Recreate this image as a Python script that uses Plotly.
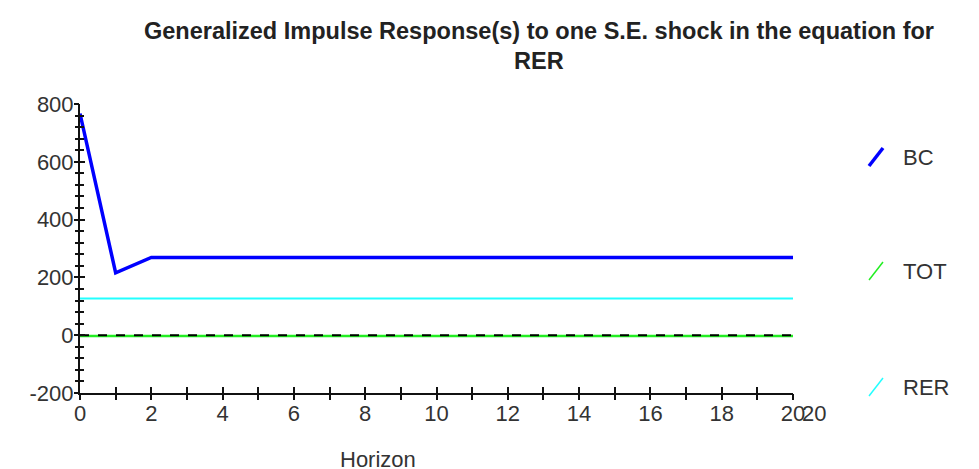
import plotly.graph_objects as go

horizon = list(range(0, 21))
bc = [767, 216, 269] + [269] * 18
tot = [-3] * 21
rer = [127] * 21
zero = [0] * 21

series_names = ["BC", "TOT", "RER"]
series_colors = ["#0000FF", "#22EE22", "#22FFFF"]

x_ticks = [0, 2, 4, 6, 8, 10, 12, 14, 16, 18, 20]
y_ticks = [-200, 0, 200, 400, 600, 800]

FONT = "Liberation Sans, Arial, sans-serif"
OFF = 8  # default page body margin
W, H = 979 - OFF, 469 - OFF
L, R, T, B = 80 - OFF, 793 - OFF, 104 - OFF, 393 - OFF  # plot area in figure pixels
PW, PH = R - L, B - T

fig = go.Figure()
fig.add_trace(go.Scatter(x=horizon, y=rer, mode="lines", line=dict(color=series_colors[2], width=2), showlegend=False))
fig.add_trace(go.Scatter(x=horizon, y=tot, mode="lines", line=dict(color=series_colors[1], width=2.5), showlegend=False))
fig.add_trace(go.Scatter(x=horizon, y=zero, mode="lines", line=dict(color="black", width=2, dash="dash"), showlegend=False))
fig.add_trace(go.Scatter(x=horizon, y=bc, mode="lines", line=dict(color=series_colors[0], width=3.5), showlegend=False))
# invisible trace to anchor the overlay axes (outer tick marks)
fig.add_trace(go.Scatter(x=[0], y=[0], xaxis="x2", yaxis="y2", mode="markers",
                         marker=dict(opacity=0), showlegend=False, hoverinfo="skip"))

TS = 22
common = dict(showgrid=False, zeroline=False, showline=True, linecolor="#111", linewidth=2)
fig.update_layout(
    width=W, height=H,
    margin=dict(l=L, r=W - R, t=T, b=H - B, autoexpand=False),
    paper_bgcolor="white", plot_bgcolor="white",
    font=dict(family=FONT, color="#333"),
    xaxis=dict(range=[0, 20], tickvals=x_ticks, ticktext=[str(v) for v in x_ticks],
               ticks="inside", ticklen=6, tickwidth=2, tickcolor="#111",
               minor=dict(ticks="inside", dtick=1, tick0=0, ticklen=6, tickwidth=2, tickcolor="#111"),
               tickfont=dict(size=TS, family=FONT, color="#333"), **common),
    yaxis=dict(range=[-200, 800], tickvals=y_ticks, ticktext=[str(v) for v in y_ticks],
               ticks="inside", ticklen=5, tickwidth=2, tickcolor="#111",
               minor=dict(ticks="inside", dtick=40, tick0=0, ticklen=4, tickwidth=2, tickcolor="#111"),
               tickfont=dict(size=TS, family=FONT, color="#333"), **common),
    xaxis2=dict(range=[0, 20], overlaying="x", anchor="y2", showticklabels=False,
                tickvals=x_ticks, ticks="outside", ticklen=6, tickwidth=2, tickcolor="#111",
                minor=dict(ticks="outside", dtick=1, tick0=0, ticklen=6, tickwidth=2, tickcolor="#111"),
                showgrid=False, zeroline=False, showline=False),
    yaxis2=dict(range=[-200, 800], overlaying="y", anchor="x2", showticklabels=False,
                tickvals=y_ticks, ticks="outside", ticklen=5, tickwidth=2, tickcolor="#111",
                minor=dict(ticks="outside", dtick=40, tick0=0, ticklen=4, tickwidth=2, tickcolor="#111"),
                showgrid=False, zeroline=False, showline=False),
)

def px(xp):
    return (xp - OFF - L) / PW

def py(yp):
    return (B - (yp - OFF)) / PH

# Title
fig.add_annotation(xref="paper", yref="paper", x=px(539), y=py(31), xanchor="center", yanchor="middle",
                   text="<b>Generalized Impulse Response(s) to one S.E. shock in the equation for</b>",
                   showarrow=False, font=dict(size=23.5, family=FONT, color="#222"))
fig.add_annotation(xref="paper", yref="paper", x=px(539), y=py(61), xanchor="center", yanchor="middle",
                   text="<b>RER</b>", showarrow=False, font=dict(size=23.5, family=FONT, color="#222"))
# Axis title
fig.add_annotation(xref="paper", yref="paper", x=px(378), y=py(459), xanchor="center", yanchor="middle",
                   text="Horizon", showarrow=False, font=dict(size=TS, family=FONT, color="#333"))
# duplicated end label of the original
fig.add_annotation(xref="paper", yref="paper", x=px(814), y=py(413), xanchor="center", yanchor="middle",
                   text="20", showarrow=False, font=dict(size=TS, family=FONT, color="#333"))

# Legend drawn manually at the right
legend_y = [157, 271, 387]  # pixel centres
legend_w = [3.5, 1.5, 1.5]
for name, col, ly, w in zip(series_names, series_colors, legend_y, legend_w):
    fig.add_shape(type="line", xref="paper", yref="paper",
                  x0=px(869), y0=py(ly + 9), x1=px(883), y1=py(ly - 9),
                  line=dict(color=col, width=w))
    fig.add_annotation(xref="paper", yref="paper", x=px(903), y=py(ly), xanchor="left",
                       yanchor="middle", text=name, showarrow=False, xshift=-2,
                       font=dict(size=TS, family=FONT, color="#333"))

fig.write_html("out.html")
